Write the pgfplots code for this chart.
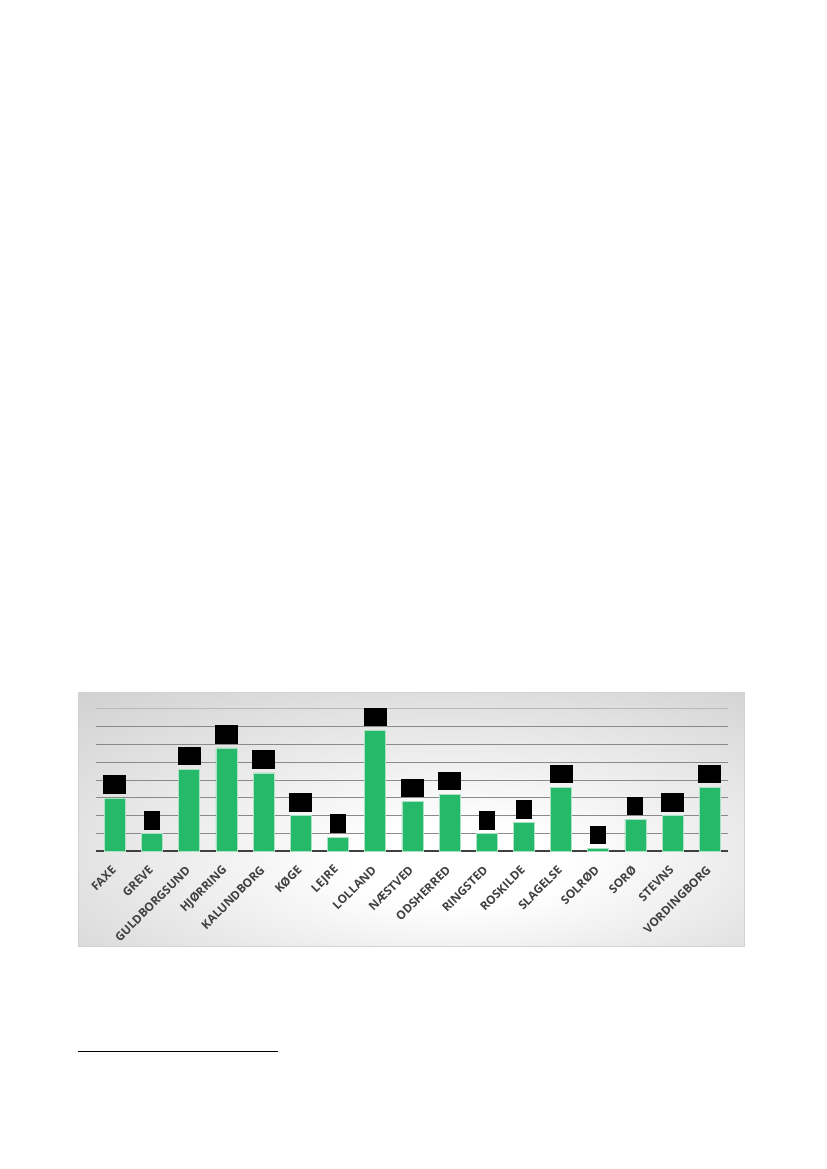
\documentclass[border=0pt]{standalone}
\usepackage{fontspec}
\setmainfont{Open Sans}
\usepackage{pgfplots}
\pgfplotsset{compat=1.18}
\definecolor{barg}{RGB}{38,185,106}
\definecolor{lbl}{RGB}{64,64,64}
\pgfdeclareradialshading{bgshade}{\pgfpoint{4bp}{-10bp}}{color(0bp)=(white); color(8bp)=(white); color(40bp)=(gray!36); color(60bp)=(gray!56); color(80bp)=(gray!60)}

\begin{document}
\begin{tikzpicture}[x=0.71981pt, y=-0.71981pt]
% page
\path[fill=white] (0,0) rectangle (827,1169);
% chart background
\shade[shading=bgshade, draw=gray!35, line width=0.6pt] (78,692) rectangle (744,946);
% footnote rule
\draw[black, line width=0.5pt] (78,1051) -- (278,1051);
\coordinate (axSW) at (96.3,851.3);

\begin{axis}[
    at={(axSW)}, anchor=south west,
    scale only axis,
    width=455pt, height=102.6pt,
    xmin=-0.5, xmax=16.5,
    ymin=0, ymax=8,
    ybar, bar width=15.1pt,
    axis x line*=bottom,
    axis y line*=left,
    y axis line style={draw=none},
    x axis line style={lbl, line width=1.4pt, -},
    ymajorgrids,
    ytick={1,...,7},
    yticklabels={},
    major y tick style={draw=none},
    grid style={gray!92, line width=0.6pt},
    major x tick style={draw=none},
    xtick={0,...,16},
    xticklabels={FAXE, GREVE, GULDBORGSUND, HJØRRING, KALUNDBORG, KØGE, LEJRE, LOLLAND, NÆSTVED, ODSHERRED, RINGSTED, ROSKILDE, SLAGELSE, SOLRØD, SORØ, STEVNS, VORDINGBORG},
    xticklabel shift=7pt,
    xticklabel style={anchor=east, rotate=45, font=\fontsize{8.5}{9}\selectfont\bfseries, text=lbl, inner sep=1pt},
    point meta=explicit symbolic,
    nodes near coords={\rule{\pgfplotspointmeta pt}{13.4pt}},
    every node near coord/.style={anchor=south, inner sep=0pt, yshift=2.6pt, text=black},
]
% lighter top grid line
\draw[gray!55, line width=0.6pt] (axis cs:-0.5,8) -- (axis cs:16.5,8);
\addplot[fill=barg, draw=barg!40!white, line width=0.5pt] coordinates {
    (0,3.0) [16.6]
    (1,1.0) [11.5]
    (2,4.6) [16.6]
    (3,5.8) [16.6]
    (4,4.4) [16.6]
    (5,2.0) [16.6]
    (6,0.8) [11.5]
    (7,6.8) [16.6]
    (8,2.8) [16.6]
    (9,3.2) [16.6]
    (10,1.0) [11.5]
    (11,1.6) [11.5]
    (12,3.6) [16.6]
    (13,0.17) [11.5]
    (14,1.8) [11.5]
    (15,2.0) [16.6]
    (16,3.6) [16.6]
};
\end{axis}
\end{tikzpicture}
\end{document}
